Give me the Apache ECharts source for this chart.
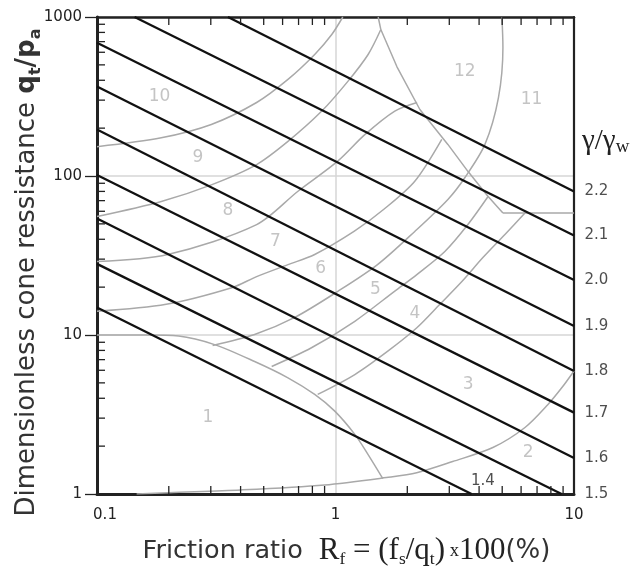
<!DOCTYPE html>
<html><head><meta charset="utf-8">
<script src="https://cdn.jsdelivr.net/npm/echarts@6/dist/echarts.min.js"></script>
<style>html,body{margin:0;padding:0;background:#fff}#c{width:640px;height:570px}</style>
</head><body><div id="c"></div>
<script>
// ---- data ----
const xRange = [0.1, 10];
const yRange = [1, 1000];
const xMinorTicks = [0.2,0.3,0.4,0.5,0.6,0.7,0.8,0.9,2,3,4,5,6,7,8,9];
const yMinorTicks = [2,3,4,5,6,7,8,9,20,30,40,50,60,70,80,90,200,300,400,500,600,700,800,900];

// unit weight contours gamma/gamma_w
const gammaValues = ['2.2','2.1','2.0','1.9','1.8','1.7','1.6','1.5','1.4'];
const gammaStart = [[0.354,1000],[0.1437,1000],[0.1,688],[0.1,365],[0.1,196],[0.1,101.4],[0.1,54.0],[0.1,28.0],[0.1,14.9]];
const gammaEnd   = [[10,79.9],[10,42.3],[10,22.2],[10,11.4],[10,5.94],[10,3.25],[10,1.684],[8.87,1],[3.72,1]];
const gammaLabelPos = [[10,79.9],[10,42.3],[10,22.2],[10,11.4],[10,5.94],[10,3.25],[10,1.684],[10,1],[4.15,1.2]];

// soil behaviour type zone boundaries
const bZone1   = [[0.1,10],[0.16,10],[0.22,9.85],[0.311,8.7],[0.458,6.81],[0.632,5.38],[0.818,4.23],[0.993,3.32],[1.205,2.37],[1.37,1.77],[1.579,1.25]];
const bZone2   = [[0.1466,1],[0.2,1.02],[0.4,1.06],[0.9,1.14],[1.636,1.27],[2.19,1.36],[3.1,1.6],[4.57,1.96],[6.23,2.62],[7.78,3.66],[8.9,4.67],[10,5.94]];
const b10_9    = [[0.1,153],[0.186,174],[0.3015,211],[0.467,290],[0.632,405],[0.818,581],[0.9645,776],[1.073,1000]];
const b9_8     = [[0.1,55.6],[0.186,69.2],[0.3015,88],[0.467,118],[0.632,165],[0.876,256],[1.129,395],[1.37,581],[1.549,834]];
const b9_8Top  = [[1.549,834],[1.51,1000]];
const b8_7     = [[0.1,29],[0.198,32.1],[0.467,49.5],[0.696,80.2],[1.022,124],[1.327,182],[1.773,256],[2.2,290]];
const b7_6     = [[0.1,14.1],[0.195,15.6],[0.37,19.9],[0.467,23.3],[0.632,27.7],[0.818,32.1],[1.2,45],[1.6,62],[2.15,92.7],[2.79,170]];
const b6_5     = [[0.3053,8.59],[0.458,10.07],[0.675,12.9],[1.022,18.8],[1.5,27.7],[2.15,44.8],[2.96,71.2],[3.49,97.9],[4.232,158],[4.82,310],[5.035,643],[4.986,1000]];
const b5_4     = [[0.54,6.34],[0.793,8.31],[1.205,12.2],[1.773,18.9],[2.193,24.0],[2.874,33.5],[3.59,49.5],[4.355,74]];
const b4_3     = [[0.842,4.23],[1.205,5.64],[1.657,7.91],[2.193,11.1],[2.739,15.6],[3.388,21.7],[4.15,30.7],[5.133,42.9],[6.228,58.5]];
const b12      = [[1.549,834],[1.808,488],[2.258,262],[2.959,158],[3.59,107],[4.355,74.6],[5.035,58.5]];
const b11Low   = [[5.035,58.5],[10,58.5]];

const zoneNames = ['1','2','3','4','5','6','7','8','9','10','11','12'];
const zonePos = [[0.2917,3.02],[6.43,1.82],[3.6,4.88],[2.15,13.6],[1.471,19.3],[0.867,26.2],[0.56,38.9],[0.354,60.7],[0.265,130],[0.183,316],[6.64,303],[3.487,452]];

// ---- chart ----
const SANS = 'DejaVu Sans';
const SERIF = 'Liberation Serif';
const grey = '#a9a9a9';
const chart = echarts.init(document.getElementById('c'), null, {renderer:'canvas'});

function boundary(data, smooth) {
  return {type:'line', data:data, showSymbol:false, smooth:smooth, silent:true, z:2,
    lineStyle:{color:grey, width:1.5}};
}
const series = [];
[bZone1,bZone2,b10_9,b9_8,b8_7,b7_6,b6_5,b5_4,b4_3].forEach(d => series.push(boundary(d, 0.3)));
[b9_8Top,b12,b11Low].forEach(d => series.push(boundary(d, false)));
gammaValues.forEach((g,i) => series.push({type:'line', data:[gammaStart[i], gammaEnd[i]], showSymbol:false, silent:true, z:4,
  lineStyle:{color:'#111', width:2.3}}));
series.push({type:'scatter', symbolSize:1, itemStyle:{color:'rgba(0,0,0,0)'}, z:6, silent:true,
  data: gammaValues.map((g,i)=>({name:g, value:gammaLabelPos[i],
    label: i===gammaValues.length-1 ? {position:'inside'} : {position:'right', distance:10}})),
  label:{show:true, formatter:p=>p.name, color:'#222', fontFamily:SANS, fontSize:15}});
series.push({type:'scatter', symbolSize:1, itemStyle:{color:'rgba(0,0,0,0)'}, z:6, silent:true,
  data: zoneNames.map((n,i)=>({name:n, value:zonePos[i]})),
  label:{show:true, position:'inside', formatter:p=>p.name, color:'#b5b5b5', fontFamily:SANS, fontSize:17}});
const TL = 8;
series.push({type:'custom', silent:true, z:7, data:xMinorTicks.map(v=>[v,yRange[0]]),
  renderItem:(params, api)=>{
    const x = api.value(0); const b = api.coord([x,yRange[0]]); const t = api.coord([x,yRange[1]]);
    return {type:'group', children:[
      {type:'line', shape:{x1:b[0],y1:b[1],x2:b[0],y2:b[1]-TL}, style:{stroke:'#222',lineWidth:1.3}},
      {type:'line', shape:{x1:t[0],y1:t[1],x2:t[0],y2:t[1]+TL}, style:{stroke:'#222',lineWidth:1.3}}]};
  }});
series.push({type:'custom', silent:true, z:7, data:yMinorTicks.map(v=>[xRange[0],v]),
  renderItem:(params, api)=>{
    const y = api.value(1); const l = api.coord([xRange[0],y]);
    return {type:'line', shape:{x1:l[0],y1:l[1],x2:l[0]+TL,y2:l[1]}, style:{stroke:'#222',lineWidth:1.3}};
  }});

const option = {
  animation:false,
  backgroundColor:'#fff',
  grid:{left:97, right:66, top:17, bottom:76, containLabel:false, outerBoundsMode:'none'},
  xAxis:[{type:'log', logBase:10, min:xRange[0], max:xRange[1], position:'bottom',
      axisLine:{show:true, onZero:false, lineStyle:{color:'#222', width:3}},
      axisTick:{show:false},
      splitLine:{show:true, lineStyle:{color:'#d6d6d6', width:1.5}},
      axisLabel:{color:'#222', fontFamily:SANS, fontSize:15, margin:14,
        formatter:v=> Math.abs(v-0.1)<1e-9 ? '{f|0.1}' : String(Math.round(v)),
        rich:{f:{fontFamily:SANS, fontSize:15, color:'#222', padding:[0,0,0,16]}}},
      name:'{s|Friction ratio}{g| }{r|R}{rs|f}{r| = (f}{rs|s}{r|/q}{rs|t}{r|)}{x| x}{r|100}{p|(%)}',
      nameLocation:'middle', nameGap:40, nameMoveOverlap:false,
      nameTextStyle:{padding:[0,0,0,22], rich:{
        s:{fontFamily:SANS, fontSize:25.5, color:'#333', lineHeight:34},
        g:{fontFamily:SANS, fontSize:24, width:16, lineHeight:34},
        r:{fontFamily:SERIF, fontSize:31, color:'#222', lineHeight:34},
        rs:{fontFamily:SERIF, fontSize:17.5, color:'#222', lineHeight:17, verticalAlign:'bottom'},
        x:{fontFamily:SERIF, fontSize:18.5, color:'#222', lineHeight:34},
        p:{fontFamily:SANS, fontSize:26, color:'#333', lineHeight:34}}}},
    {type:'log', logBase:10, min:xRange[0], max:xRange[1], position:'top',
      axisLine:{show:true, onZero:false, lineStyle:{color:'#222', width:2.5}},
      axisTick:{show:false}, axisLabel:{show:false}, splitLine:{show:false}}],
  yAxis:[{type:'log', logBase:10, min:yRange[0], max:yRange[1], position:'left',
      axisLine:{show:true, onZero:false, lineStyle:{color:'#222', width:3}},
      axisTick:{show:true, inside:false, length:12, lineStyle:{color:'#222', width:1.3}},
      splitLine:{show:true, lineStyle:{color:'#d6d6d6', width:1.5}},
      axisLabel:{color:'#222', fontFamily:SANS, fontSize:15, margin:15, formatter:v=>String(Math.round(v))},
      name:'{s|Dimensionless cone ressistance }{b|q}{bs|t}{b|/p}{bs|a}',
      nameLocation:'middle', nameGap:53, nameMoveOverlap:false,
      nameTextStyle:{padding:[0,34,0,0], rich:{
        s:{fontFamily:SANS, fontSize:26, color:'#333', lineHeight:34},
        b:{fontFamily:SANS, fontSize:26, fontWeight:'bold', color:'#333', lineHeight:34},
        bs:{fontFamily:SANS, fontSize:16, fontWeight:'bold', color:'#333', lineHeight:16, verticalAlign:'bottom'}}}},
    {type:'log', logBase:10, min:yRange[0], max:yRange[1], position:'right',
      axisLine:{show:true, onZero:false, lineStyle:{color:'#222', width:2.2}},
      axisTick:{show:false}, axisLabel:{show:false}, splitLine:{show:false}}],
  graphic:[{type:'text', left:582, top:127, silent:true,
    style:{text:'{g|γ/γ}{w|w}', rich:{
      g:{fontFamily:SERIF, fontSize:29, fill:'#222', lineHeight:31},
      w:{fontFamily:SERIF, fontSize:19, fill:'#222', lineHeight:19, verticalAlign:'bottom'}}}}],
  series: series
};
chart.setOption(option);
</script></body></html>
